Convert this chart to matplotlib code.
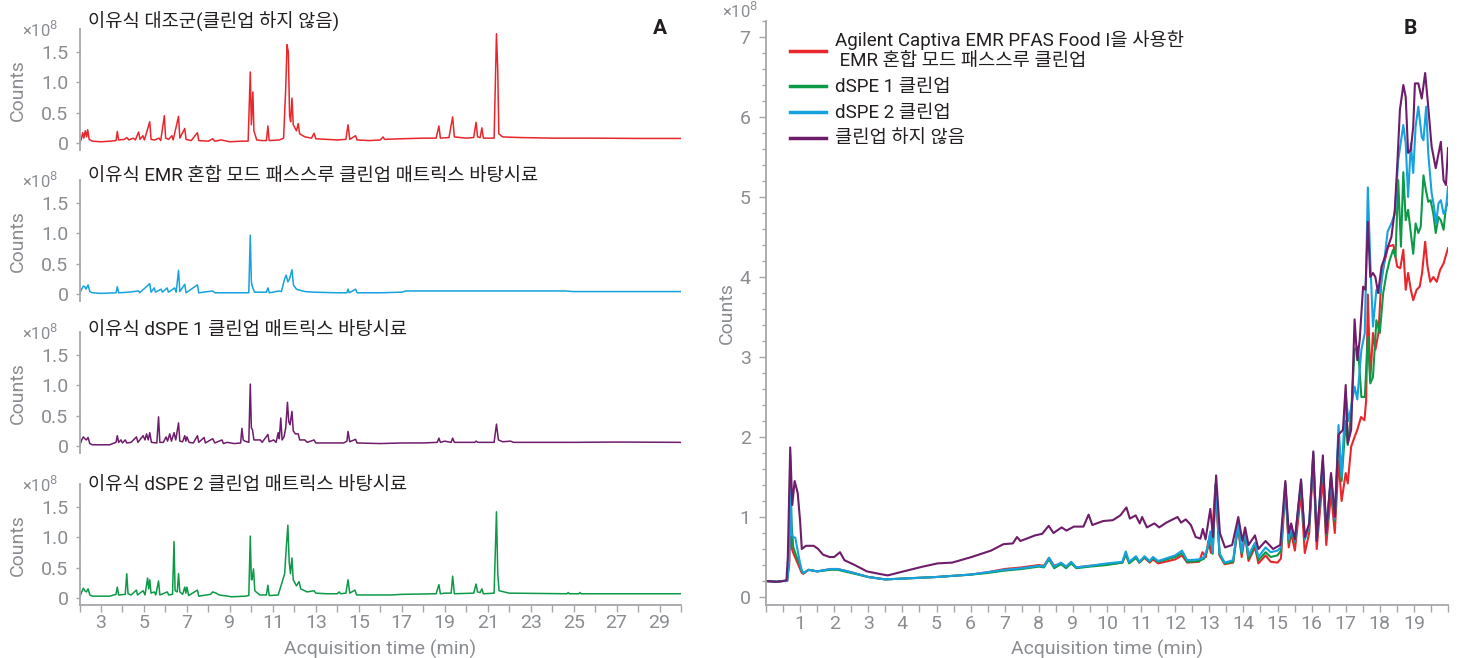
import matplotlib
matplotlib.use("Agg")
import matplotlib.pyplot as plt
from matplotlib.ticker import MultipleLocator, FixedLocator
import numpy as np

plt.rcParams['font.family'] = ['Roboto', 'Noto Sans CJK KR', 'DejaVu Sans']

# ---- Panel A: full chromatograms (time in min, counts x1e8) ----
ctrl_pts = [(2.0,0.0),(2.08,0.06),(2.15,0.17),(2.2,0.08),(2.27,0.2),(2.33,0.1),(2.38,0.22),(2.45,0.06),(2.6,0.03),(3.0,0.02),(3.4,0.03),(3.7,0.04),(3.76,0.19),(3.82,0.05),(4.1,0.06),(4.2,0.09),(4.3,0.05),(4.5,0.08),(4.6,0.05),(4.75,0.18),(4.82,0.06),(4.95,0.12),(5.02,0.05),(5.27,0.35),(5.33,0.06),(5.5,0.05),(5.7,0.08),(5.78,0.04),(5.95,0.45),(6.01,0.08),(6.15,0.06),(6.3,0.12),(6.36,0.05),(6.61,0.44),(6.67,0.08),(6.9,0.24),(6.96,0.06),(7.2,0.04),(7.49,0.17),(7.55,0.04),(8.0,0.03),(8.2,0.07),(8.3,0.03),(8.6,0.05),(9.0,0.02),(9.5,0.03),(9.85,0.03),(9.95,1.17),(10.0,0.3),(10.07,0.84),(10.12,0.2),(10.25,0.05),(10.5,0.04),(10.7,0.04),(10.77,0.28),(10.83,0.04),(11.3,0.05),(11.5,0.08),(11.6,0.9),(11.66,1.62),(11.72,1.5),(11.78,0.45),(11.83,0.35),(11.89,0.74),(11.95,0.3),(12.1,0.2),(12.18,0.32),(12.25,0.15),(12.5,0.1),(12.8,0.08),(12.92,0.16),(13.0,0.07),(13.5,0.06),(14.0,0.05),(14.4,0.06),(14.5,0.3),(14.58,0.06),(14.85,0.12),(14.92,0.05),(15.5,0.04),(16.0,0.05),(16.13,0.1),(16.2,0.06),(17.0,0.07),(18.0,0.08),(18.6,0.08),(18.73,0.28),(18.8,0.08),(19.2,0.09),(19.37,0.43),(19.45,0.1),(20.0,0.08),(20.35,0.09),(20.46,0.34),(20.53,0.1),(20.65,0.09),(20.73,0.25),(20.8,0.08),(21.3,0.08),(21.41,1.8),(21.47,1.2),(21.52,0.15),(21.7,0.1),(22.5,0.09),(24.0,0.08),(26.0,0.08),(28.0,0.075),(30.0,0.075)]

emr_pts = [(2.0,0.0),(2.1,0.08),(2.18,0.13),(2.25,0.12),(2.3,0.08),(2.4,0.15),(2.48,0.04),(2.6,0.02),(3.0,0.01),(3.7,0.02),(3.76,0.12),(3.82,0.02),(4.3,0.03),(4.75,0.05),(4.8,0.02),(5.27,0.17),(5.33,0.03),(5.48,0.1),(5.54,0.03),(5.8,0.08),(5.86,0.03),(6.08,0.1),(6.14,0.03),(6.43,0.1),(6.5,0.03),(6.61,0.39),(6.67,0.04),(6.9,0.16),(6.96,0.02),(7.49,0.15),(7.55,0.02),(8.2,0.05),(8.3,0.02),(9.0,0.02),(9.88,0.02),(9.95,0.97),(10.0,0.2),(10.05,0.12),(10.15,0.03),(10.7,0.03),(10.77,0.1),(10.84,0.02),(11.3,0.05),(11.4,0.04),(11.55,0.25),(11.62,0.31),(11.7,0.2),(11.78,0.25),(11.89,0.4),(11.96,0.15),(12.1,0.08),(12.18,0.07),(12.5,0.04),(12.92,0.03),(14.0,0.02),(14.45,0.02),(14.5,0.08),(14.56,0.02),(14.85,0.08),(14.92,0.02),(16.0,0.02),(17.0,0.03),(17.2,0.05),(20.0,0.05),(24.0,0.05),(24.6,0.05),(25.0,0.04),(30.0,0.04)]

dspe1_pts = [(2.0,0.0),(2.1,0.1),(2.18,0.15),(2.25,0.12),(2.32,0.1),(2.4,0.14),(2.48,0.04),(2.6,0.02),(3.4,0.02),(3.7,0.06),(3.76,0.17),(3.82,0.06),(3.93,0.1),(4.0,0.05),(4.13,0.1),(4.2,0.05),(4.4,0.06),(4.65,0.15),(4.72,0.06),(4.96,0.17),(5.05,0.1),(5.12,0.2),(5.2,0.1),(5.27,0.22),(5.35,0.06),(5.6,0.05),(5.68,0.48),(5.74,0.06),(5.9,0.06),(6.03,0.15),(6.1,0.08),(6.2,0.2),(6.28,0.08),(6.4,0.22),(6.48,0.1),(6.61,0.38),(6.67,0.08),(6.8,0.07),(6.9,0.17),(6.95,0.08),(7.0,0.15),(7.1,0.06),(7.3,0.05),(7.49,0.17),(7.55,0.06),(7.8,0.14),(7.86,0.05),(8.2,0.12),(8.3,0.05),(8.63,0.1),(8.7,0.04),(8.88,0.06),(9.2,0.04),(9.5,0.05),(9.56,0.29),(9.62,0.1),(9.7,0.08),(9.88,0.06),(9.95,1.02),(10.0,0.3),(10.05,0.27),(10.12,0.1),(10.42,0.1),(10.5,0.06),(10.77,0.19),(10.83,0.07),(11.04,0.1),(11.15,0.06),(11.25,0.22),(11.3,0.12),(11.37,0.46),(11.43,0.1),(11.52,0.15),(11.6,0.3),(11.68,0.72),(11.74,0.4),(11.8,0.35),(11.89,0.57),(11.95,0.25),(12.05,0.2),(12.18,0.2),(12.25,0.1),(12.49,0.1),(12.6,0.06),(12.92,0.1),(13.0,0.05),(13.41,0.05),(14.3,0.05),(14.45,0.08),(14.5,0.24),(14.58,0.07),(14.85,0.11),(14.92,0.05),(16.0,0.04),(17.0,0.05),(18.0,0.05),(18.65,0.06),(18.73,0.13),(18.8,0.06),(19.0,0.08),(19.3,0.06),(19.37,0.13),(19.45,0.06),(20.4,0.06),(20.46,0.08),(20.55,0.06),(21.3,0.06),(21.41,0.36),(21.5,0.1),(21.7,0.07),(22.07,0.08),(22.2,0.06),(25.0,0.06),(27.0,0.065),(30.0,0.06)]

dspe2_pts = [(2.0,0.0),(2.1,0.1),(2.18,0.16),(2.25,0.12),(2.32,0.1),(2.4,0.15),(2.48,0.05),(2.6,0.03),(3.4,0.03),(3.7,0.06),(3.76,0.18),(3.82,0.05),(4.13,0.06),(4.2,0.4),(4.26,0.07),(4.4,0.05),(4.65,0.13),(4.7,0.05),(4.96,0.12),(5.05,0.05),(5.17,0.33),(5.22,0.15),(5.27,0.3),(5.33,0.08),(5.48,0.1),(5.55,0.05),(5.68,0.28),(5.74,0.05),(6.09,0.1),(6.15,0.05),(6.33,0.06),(6.4,0.93),(6.45,0.12),(6.55,0.1),(6.61,0.4),(6.67,0.1),(6.8,0.06),(6.9,0.18),(6.95,0.08),(7.0,0.18),(7.08,0.04),(7.49,0.13),(7.55,0.03),(8.1,0.06),(8.2,0.1),(8.36,0.08),(8.5,0.05),(8.7,0.04),(9.08,0.02),(9.7,0.03),(9.88,0.04),(9.95,1.02),(10.0,0.3),(10.03,0.3),(10.1,0.48),(10.16,0.12),(10.22,0.1),(10.4,0.05),(10.7,0.05),(10.77,0.21),(10.83,0.04),(11.25,0.05),(11.55,0.4),(11.62,0.8),(11.7,1.2),(11.76,0.6),(11.82,0.4),(11.89,0.66),(11.95,0.3),(12.1,0.2),(12.22,0.27),(12.3,0.15),(12.6,0.1),(12.92,0.12),(13.0,0.08),(13.5,0.07),(14.0,0.07),(14.09,0.1),(14.15,0.07),(14.4,0.08),(14.5,0.3),(14.58,0.08),(14.82,0.13),(14.9,0.05),(16.5,0.05),(17.0,0.06),(18.6,0.07),(18.73,0.22),(18.8,0.07),(19.0,0.08),(19.3,0.08),(19.37,0.36),(19.45,0.07),(20.35,0.08),(20.46,0.23),(20.53,0.1),(20.65,0.09),(20.73,0.15),(20.8,0.07),(21.3,0.08),(21.41,1.42),(21.47,0.4),(21.53,0.12),(22.0,0.08),(24.7,0.07),(24.75,0.09),(24.8,0.07),(25.25,0.07),(25.3,0.09),(25.35,0.07),(27.0,0.07),(30.0,0.07)]

panel_a_titles = ["이유식 대조군(클린업 하지 않음)",
                  "이유식 EMR 혼합 모드 패스스루 클린업 매트릭스 바탕시료",
                  "이유식 dSPE 1 클린업 매트릭스 바탕시료",
                  "이유식 dSPE 2 클린업 매트릭스 바탕시료"]

# ---- Panel B: overlaid background (time in min, counts x1e8) ----
emr_b = [(0.0,0.2),(0.3,0.19),(0.5,0.2),(0.62,0.2),(0.68,0.4),(0.72,1.2),(0.76,0.6),(0.8,0.55),(0.9,0.45),(1.0,0.35),(1.05,0.3),(1.1,0.29),(1.25,0.34),(1.5,0.32),(1.9,0.35),(2.1,0.35),(2.5,0.31),(3.0,0.25),(3.5,0.22),(4.0,0.23),(5.0,0.25),(6.0,0.28),(6.5,0.31),(7.0,0.35),(7.5,0.37),(8.0,0.4),(8.15,0.39),(8.3,0.49),(8.45,0.39),(8.65,0.42),(8.8,0.38),(8.95,0.43),(9.1,0.37),(9.5,0.39),(10.0,0.41),(10.45,0.43),(10.55,0.53),(10.65,0.43),(10.85,0.49),(10.95,0.43),(11.1,0.49),(11.25,0.43),(11.35,0.47),(11.5,0.42),(12.0,0.47),(12.2,0.52),(12.35,0.43),(12.7,0.44),(12.8,0.56),(12.9,0.5),(12.97,0.7),(13.05,0.55),(13.18,1.4),(13.3,0.52),(13.45,0.41),(13.7,0.43),(13.84,0.88),(13.95,0.5),(14.05,0.78),(14.15,0.45),(14.34,0.62),(14.44,0.42),(14.65,0.52),(14.8,0.44),(15.0,0.43),(15.1,0.48),(15.23,1.35),(15.33,0.62),(15.4,0.8),(15.51,0.58),(15.69,1.3),(15.8,0.55),(15.93,0.8),(16.05,1.72),(16.15,0.6),(16.33,1.5),(16.43,0.65),(16.57,1.3),(16.68,0.8),(16.79,1.7),(16.88,1.2),(17.0,1.55),(17.06,1.42),(17.16,1.88),(17.26,2.0),(17.34,2.09),(17.45,2.25),(17.55,2.21),(17.6,2.46),(17.65,3.78),(17.72,2.71),(17.8,3.3),(17.87,3.09),(17.96,3.3),(18.05,4.0),(18.15,4.21),(18.24,4.38),(18.4,4.4),(18.51,4.13),(18.6,4.11),(18.69,4.34),(18.76,3.84),(18.83,4.05),(18.91,3.84),(18.98,3.71),(19.08,3.84),(19.17,3.88),(19.24,4.05),(19.33,4.44),(19.4,4.13),(19.48,3.94),(19.57,4.0),(19.67,3.94),(19.77,4.09),(19.87,4.17),(20.0,4.36)]

dspe1_b = [(0.0,0.2),(0.3,0.19),(0.5,0.2),(0.62,0.2),(0.68,0.6),(0.71,1.77),(0.75,0.9),(0.8,0.62),(0.9,0.5),(1.0,0.4),(1.05,0.32),(1.1,0.3),(1.25,0.34),(1.5,0.32),(1.9,0.34),(2.1,0.34),(2.5,0.3),(3.0,0.25),(3.5,0.22),(4.0,0.23),(5.0,0.25),(6.0,0.28),(6.5,0.3),(7.0,0.33),(7.5,0.35),(8.0,0.38),(8.15,0.37),(8.3,0.47),(8.45,0.36),(8.65,0.41),(8.8,0.36),(8.95,0.42),(9.1,0.36),(9.5,0.38),(10.0,0.4),(10.45,0.43),(10.55,0.54),(10.65,0.42),(10.85,0.49),(10.95,0.43),(11.1,0.5),(11.25,0.44),(11.35,0.49),(11.5,0.44),(12.0,0.5),(12.2,0.55),(12.35,0.44),(12.7,0.45),(12.85,0.48),(12.95,0.6),(13.03,0.8),(13.1,0.54),(13.19,1.42),(13.3,0.53),(13.45,0.42),(13.7,0.44),(13.84,0.9),(13.95,0.54),(14.05,0.8),(14.15,0.48),(14.34,0.66),(14.44,0.46),(14.65,0.56),(14.8,0.5),(15.0,0.52),(15.1,0.58),(15.23,1.4),(15.33,0.68),(15.4,0.85),(15.51,0.68),(15.69,1.42),(15.8,0.72),(15.93,0.88),(16.05,1.78),(16.15,0.7),(16.33,1.68),(16.43,0.78),(16.57,1.5),(16.68,0.95),(16.79,2.0),(16.88,1.45),(17.0,2.2),(17.06,1.9),(17.16,2.3),(17.26,3.09),(17.36,3.13),(17.46,2.5),(17.56,2.5),(17.65,3.25),(17.72,2.67),(17.8,2.75),(17.9,3.46),(18.0,3.3),(18.1,3.8),(18.2,4.05),(18.29,4.21),(18.39,4.34),(18.46,4.25),(18.54,5.21),(18.62,4.38),(18.69,5.31),(18.76,4.71),(18.83,4.84),(18.91,4.55),(18.98,4.29),(19.05,4.67),(19.13,4.55),(19.2,4.63),(19.28,5.27),(19.35,5.09),(19.42,4.94),(19.49,4.96),(19.57,4.79),(19.64,4.55),(19.72,4.75),(19.79,4.71),(19.87,4.59),(19.94,4.88),(20.0,4.92)]

dspe2_b = [(0.0,0.2),(0.3,0.19),(0.5,0.2),(0.62,0.2),(0.68,0.45),(0.72,1.35),(0.75,0.78),(0.8,0.75),(0.86,0.74),(0.92,0.6),(1.0,0.42),(1.05,0.33),(1.1,0.3),(1.25,0.34),(1.5,0.32),(1.9,0.35),(2.1,0.35),(2.5,0.31),(3.0,0.25),(3.5,0.22),(4.0,0.23),(5.0,0.25),(6.0,0.28),(6.5,0.31),(7.0,0.34),(7.5,0.36),(8.0,0.39),(8.15,0.38),(8.3,0.49),(8.45,0.38),(8.65,0.43),(8.8,0.38),(8.95,0.44),(9.1,0.37),(9.5,0.39),(10.0,0.42),(10.45,0.44),(10.55,0.57),(10.65,0.44),(10.85,0.51),(10.95,0.44),(11.1,0.51),(11.25,0.45),(11.35,0.5),(11.5,0.45),(12.0,0.52),(12.2,0.58),(12.35,0.46),(12.7,0.47),(12.85,0.5),(12.95,0.62),(13.03,0.82),(13.1,0.56),(13.19,1.42),(13.3,0.55),(13.45,0.43),(13.7,0.46),(13.84,0.93),(13.95,0.56),(14.05,0.82),(14.15,0.52),(14.34,0.68),(14.44,0.5),(14.65,0.62),(14.8,0.56),(15.0,0.58),(15.1,0.62),(15.23,1.42),(15.33,0.72),(15.4,0.88),(15.51,0.7),(15.69,1.45),(15.8,0.73),(15.93,0.9),(16.05,1.8),(16.15,0.72),(16.33,1.7),(16.43,0.82),(16.57,1.52),(16.68,0.98),(16.79,2.15),(16.88,1.5),(17.0,2.55),(17.08,2.2),(17.16,2.37),(17.26,2.63),(17.34,2.47),(17.46,3.09),(17.56,3.3),(17.65,5.12),(17.72,4.21),(17.8,3.38),(17.9,3.84),(18.0,3.8),(18.1,4.09),(18.23,4.57),(18.34,4.67),(18.44,4.79),(18.54,5.46),(18.69,5.9),(18.76,5.67),(18.83,5.0),(18.91,5.67),(18.98,5.3),(19.05,5.88),(19.13,6.13),(19.23,5.75),(19.28,5.71),(19.36,6.13),(19.42,5.55),(19.52,5.05),(19.59,4.88),(19.65,4.67),(19.72,4.92),(19.79,4.96),(19.87,4.79),(19.94,4.84),(20.0,5.13)]

nocl_b = [(0.0,0.2),(0.3,0.19),(0.5,0.2),(0.6,0.21),(0.64,0.5),(0.71,1.87),(0.77,1.15),(0.84,1.45),(0.93,1.3),(1.0,0.95),(1.05,0.6),(1.17,0.64),(1.4,0.64),(1.53,0.6),(1.67,0.53),(1.86,0.5),(2.0,0.5),(2.17,0.56),(2.3,0.46),(2.6,0.4),(2.96,0.32),(3.31,0.29),(3.57,0.27),(4.03,0.32),(4.6,0.38),(5.03,0.42),(5.46,0.43),(6.03,0.5),(6.6,0.58),(6.96,0.66),(7.24,0.67),(7.36,0.75),(7.46,0.7),(7.89,0.77),(8.1,0.79),(8.29,0.89),(8.43,0.8),(8.67,0.87),(8.81,0.83),(9.03,0.88),(9.31,0.88),(9.46,1.03),(9.57,0.9),(9.89,0.95),(10.17,0.96),(10.39,1.02),(10.57,1.12),(10.67,0.98),(10.84,1.02),(10.96,0.92),(11.03,1.0),(11.17,0.87),(11.39,0.92),(11.53,0.87),(11.74,0.93),(12.07,1.0),(12.17,0.93),(12.31,0.97),(12.46,0.9),(12.6,0.75),(12.74,0.73),(12.81,0.85),(12.89,0.72),(13.03,1.1),(13.11,0.75),(13.2,1.52),(13.31,0.8),(13.46,0.62),(13.67,0.65),(13.85,1.0),(13.97,0.7),(14.05,0.87),(14.15,0.65),(14.34,0.77),(14.44,0.6),(14.65,0.7),(14.87,0.6),(15.08,0.65),(15.23,1.45),(15.33,0.8),(15.4,0.92),(15.51,0.72),(15.69,1.47),(15.8,0.75),(15.93,0.92),(16.05,1.82),(16.15,0.7),(16.33,1.77),(16.43,0.8),(16.57,1.55),(16.68,1.0),(16.79,2.03),(16.92,2.09),(17.0,2.65),(17.06,1.92),(17.16,2.09),(17.26,3.47),(17.34,2.96),(17.41,3.21),(17.51,3.88),(17.58,3.84),(17.65,4.69),(17.72,4.0),(17.8,4.05),(17.87,4.0),(17.95,3.8),(18.05,4.13),(18.15,4.25),(18.24,4.38),(18.34,4.5),(18.44,4.84),(18.51,5.38),(18.59,6.09),(18.69,6.4),(18.76,6.25),(18.83,5.55),(18.91,5.59),(18.98,5.88),(19.03,6.42),(19.13,6.42),(19.23,6.23),(19.33,6.55),(19.42,6.13),(19.52,5.63),(19.64,5.36),(19.79,5.69),(19.87,5.21),(19.94,5.15),(20.0,5.61)]

legend_labels = ["Agilent Captiva EMR PFAS Food I을 사용한\n EMR 혼합 모드 패스스루 클린업",
                 "dSPE 1 클린업", "dSPE 2 클린업", "클린업 하지 않음"]

RED = '#e8262b'
BLUE = '#16a2df'
GREEN = '#0c9a47'
PURPLE = '#6e1c6b'
GREY = '#8a8d91'
SPINE = '#a5a7aa'
DARK = '#231f20'

W, H = 1459, 658
fig = plt.figure(figsize=(W / 100, H / 100), dpi=100)


def fx(px):
    return px / W


def fy(py):
    return 1 - py / H


def style_axis(ax):
    for s in ['top', 'right']:
        ax.spines[s].set_visible(False)
    for s in ['left', 'bottom']:
        ax.spines[s].set_color(SPINE)
        ax.spines[s].set_linewidth(1.3)
    ax.tick_params(axis='both', which='both', colors=SPINE, labelcolor=GREY,
                   labelsize=14, width=1.0)


# ---- Panel A ----
a_left, a_right = 79.5, 681
zero_px = [143, 294, 446, 598]
ppu = 60.7
ylo, yhi = -0.11, 1.87
series_a = [(ctrl_pts, RED), (emr_pts, BLUE), (dspe1_pts, PURPLE), (dspe2_pts, GREEN)]
title_px = [22, 176, 330, 485]

for i, (pts, col) in enumerate(series_a):
    top = zero_px[i] - yhi * ppu
    bot = zero_px[i] - ylo * ppu
    ax = fig.add_axes([fx(a_left), fy(bot), fx(a_right - a_left), (bot - top) / H])
    t = np.array([p[0] for p in pts])
    v = np.array([p[1] for p in pts])
    ax.plot(t, v, color=col, lw=1.1)
    ax.set_xlim(2, 30)
    ax.set_ylim(ylo, yhi)
    style_axis(ax)
    ax.set_yticks([0, 0.5, 1.0, 1.5])
    ax.set_yticklabels(['0', '0.5', '1.0', '1.5'])
    ax.tick_params(axis='y', length=3, pad=5)
    ax.set_ylabel('Counts', color=GREY, fontsize=14, labelpad=10)
    ax.text(-0.035, 1.0, r'×10$^{8}$', transform=ax.transAxes, ha='right', va='center',
            color=GREY, fontsize=12)
    fig.text(fx(88), fy(title_px[i]), panel_a_titles[i], ha='left', va='center',
             color=DARK, fontsize=13.5)
    if i < 3:
        ax.spines['bottom'].set_visible(False)
        ax.set_xticks([])
    else:
        ax.xaxis.set_major_locator(FixedLocator(np.arange(3, 30, 2)))
        ax.xaxis.set_minor_locator(FixedLocator(np.arange(2, 31, 2)))
        ax.tick_params(axis='x', which='both', length=5, pad=2)
        ax.set_xlabel('Acquisition time (min)', color=GREY, fontsize=14, labelpad=5)

fig.text(fx(660), fy(28), 'A', ha='center', va='center', fontsize=15, fontweight='bold', color=DARK)

# ---- Panel B ----
b_left, b_right = 766, 1448
b_zero, b_ppu = 597, 80
bylo, byhi = -0.1, 7.2
b_top = b_zero - byhi * b_ppu
b_bot = b_zero - bylo * b_ppu
axb = fig.add_axes([fx(b_left), fy(b_bot), fx(b_right - b_left), (b_bot - b_top) / H])
series_b = [(emr_b, RED), (dspe1_b, GREEN), (dspe2_b, BLUE), (nocl_b, PURPLE)]
for (pts, col), lab in zip(series_b, legend_labels):
    t = np.array([p[0] for p in pts])
    v = np.array([p[1] for p in pts])
    axb.plot(t, v, color=col, lw=1.5, label=lab)
axb.set_xlim(0, 20)
axb.set_ylim(bylo, byhi)
style_axis(axb)
axb.set_yticks(range(0, 8))
axb.yaxis.set_minor_locator(MultipleLocator(0.2))
axb.tick_params(axis='y', which='major', length=5, pad=6)
axb.tick_params(axis='y', which='minor', length=3)
axb.set_xticks(range(1, 20))
axb.xaxis.set_minor_locator(MultipleLocator(0.5))
axb.tick_params(axis='x', which='both', length=5, pad=2)
axb.set_xlabel('Acquisition time (min)', color=GREY, fontsize=14, labelpad=5)
axb.set_ylabel('Counts', color=GREY, fontsize=14, labelpad=3)
axb.text(-0.012, 1.0, r'×10$^{8}$', transform=axb.transAxes, ha='right', va='bottom',
         color=GREY, fontsize=12)
leg = axb.legend(loc='upper left', bbox_to_anchor=(0.0103, 1.014), frameon=False,
                 fontsize=13.5, handlelength=1.9, handletextpad=0.5, labelspacing=0.42)
for line in leg.get_lines():
    line.set_linewidth(2.5)
for txt in leg.get_texts():
    txt.set_color(DARK)
fig.text(fx(1410), fy(28), 'B', ha='center', va='center', fontsize=15, fontweight='bold', color=DARK)

fig.savefig('out.png', dpi=100)
